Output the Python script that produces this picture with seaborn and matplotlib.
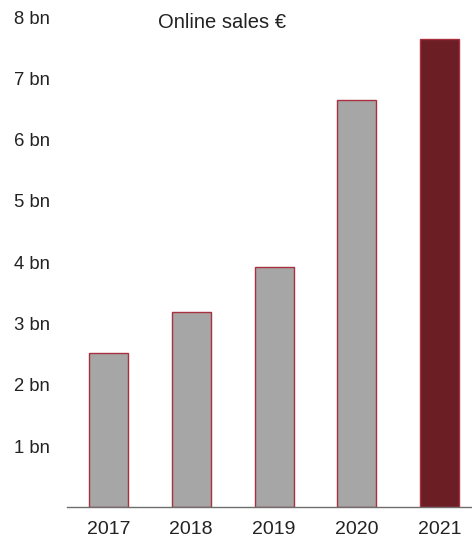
import numpy as np
import pandas as pd
import matplotlib.pyplot as plt
import seaborn as sns

sns.set_style('white')
plt.rcParams.update({
    "font.family": ["Liberation Sans", "DejaVu Sans"],
    "font.size": 13})

# data
years = ['2017', '2018', '2019', '2020', '2021']
sales_bn = [2.52, 3.19, 3.92, 6.65, 7.64]
bar_colors = ['#a6a6a6', '#a6a6a6', '#a6a6a6', '#a6a6a6', '#6b1e24']
ytick_values = [1, 2, 3, 4, 5, 6, 7, 8]
ytick_labels = [f'{v} bn' for v in ytick_values]

df = pd.DataFrame({'year': years, 'sales': sales_bn})

fig = plt.figure(figsize=(4.72, 5.4), dpi=100)
ax = fig.add_axes([0.142, 0.0602, 0.858, 0.9083])

sns.barplot(data=df, x='year', y='sales', hue='year', palette=bar_colors,
            legend=False, width=0.47, edgecolor='#a8303f', linewidth=1.0,
            saturation=1, ax=ax)

ax.set_xlim(-0.5, 4.39)
ax.set_ylim(0, 8)
ax.set_yticks(ytick_values)
ax.set_yticklabels(ytick_labels, ha='left', fontsize=13.3)
ax.tick_params(axis='y', length=0, pad=38.2, colors='#222222')
ax.tick_params(axis='x', length=0, pad=9.5, colors='#222222', labelsize=14)
ax.set_xlabel('')
ax.set_ylabel('')

for side in ['top', 'right', 'left']:
    ax.spines[side].set_visible(False)
ax.spines['bottom'].set_color('#6e6e6e')
ax.spines['bottom'].set_linewidth(1.0)

ax.text(0.383, 0.9885, 'Online sales €', transform=ax.transAxes,
        ha='center', va='center', color='#222222', fontsize=14.5)

plt.savefig('out.png', dpi=100)
